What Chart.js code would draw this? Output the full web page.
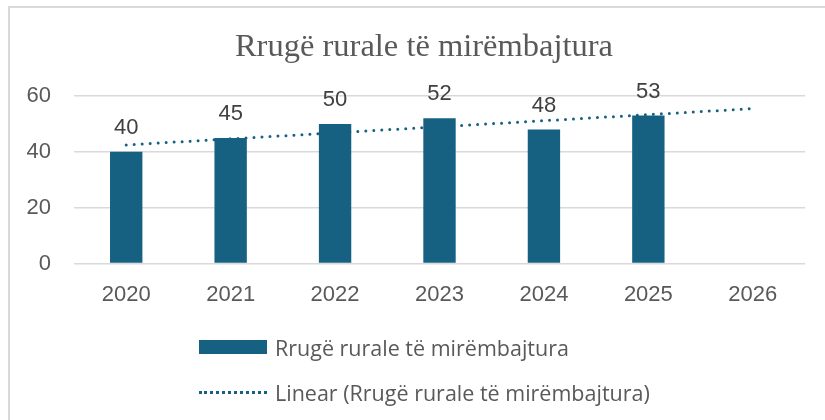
<!DOCTYPE html>
<html>
<head>
<meta charset="utf-8">
<script src="https://cdn.jsdelivr.net/npm/chart.js@4"></script>
<style>
  html, body { margin: 0; padding: 0; background: #fff; overflow: hidden; }
  #wrap { position: relative; width: 825px; height: 420px; }
  #frame {
    position: absolute; left: 8px; top: 6px; width: 900px; height: 500px;
    border: 2px solid #d9d9d9; box-sizing: border-box; pointer-events: none;
  }
  #title {
    position: absolute; left: 0; top: 25.5px; width: 848px; text-align: center;
    font-family: "Liberation Serif", "Times New Roman", serif; font-size: 32.5px;
    line-height: 39px; color: #595959; white-space: nowrap;
  }
  #legend {
    position: absolute; left: 199px; top: 334px;
    font-family: "Open Sans", "Noto Sans", sans-serif; font-size: 21.5px; color: #595959;
  }
  .item { display: flex; align-items: center; height: 26px; }
  .swatch-bar { width: 68px; height: 14px; background: #166082; margin-right: 8px; flex: none; }
  .swatch-dot { width: 68px; height: 0; border-top: 3px dotted #166082; margin-right: 8px; flex: none; }
</style>
</head>
<body>
<div id="wrap">
  <canvas id="chart" width="825" height="420"></canvas>
  <div id="frame"></div>
  <div id="title">Rrugë rurale të mirëmbajtura</div>
  <div id="legend">
    <div class="item"><span class="swatch-bar"></span><span>Rrugë rurale të mirëmbajtura</span></div>
    <div class="item" style="margin-top:19px"><span class="swatch-dot"></span><span>Linear (Rrugë rurale të mirëmbajtura)</span></div>
  </div>
</div>
<script>
'use strict';

// ─── Data ─────────────────────────────────────────────────────────────────────
const years   = ['2020', '2021', '2022', '2023', '2024', '2025', '2026'];
const roads   = [40, 45, 50, 52, 48, 53, null];
// trendline end points (2020 and 2026)
const trend   = [42.5, null, null, null, null, null, 55.5];
const yTicks  = [0, 20, 40, 60];

const BLUE = '#166082';
const GREY = '#595959';
const SANS = '"Liberation Sans", Arial, sans-serif';

// draws the value above each bar
const barLabels = {
  id: 'barLabels',
  afterDatasetsDraw(chart) {
    const ctx = chart.ctx;
    const meta = chart.getDatasetMeta(0);
    ctx.save();
    ctx.font = '22px ' + SANS;
    ctx.fillStyle = '#404040';
    ctx.textAlign = 'center';
    ctx.textBaseline = 'alphabetic';
    meta.data.forEach((bar, i) => {
      if (roads[i] == null) return;
      ctx.fillText(String(roads[i]), bar.x, bar.y - 18);
    });
    ctx.restore();
  },
};

new Chart(document.getElementById('chart').getContext('2d'), {
  data: {
    labels: years,
    datasets: [
      {
        type: 'bar',
        label: 'Rrugë rurale të mirëmbajtura',
        data: roads,
        backgroundColor: BLUE,
        categoryPercentage: 1,
        barPercentage: 0.31,
        order: 2,
      },
      {
        type: 'line',
        label: 'Linear (Rrugë rurale të mirëmbajtura)',
        data: trend,
        borderColor: BLUE,
        borderWidth: 3,
        borderDash: [0, 8],
        borderCapStyle: 'round',
        pointRadius: 0,
        spanGaps: true,
        fill: false,
        order: 1,
      },
    ],
  },
  options: {
    responsive: false,
    animation: false,
    layout: { padding: { left: 0, right: 20, top: 96, bottom: 94 } },
    plugins: {
      legend: { display: false },
      tooltip: { enabled: false },
      title: { display: false },
    },
    scales: {
      x: {
        grid: { display: false, drawTicks: false },
        border: { display: false },
        ticks: {
          color: GREY,
          font: { family: SANS, size: 22 },
          padding: 18,
          maxRotation: 0,
        },
      },
      y: {
        min: 0,
        max: 60,
        afterFit: s => { s.width = 74; },
        afterBuildTicks: s => { s.ticks = yTicks.map(v => ({ value: v })); },
        grid: { color: '#d9d9d9', lineWidth: 1.5, drawTicks: false },
        border: { display: false },
        ticks: {
          color: GREY,
          font: { family: SANS, size: 22 },
          padding: 23,
        },
      },
    },
  },
  plugins: [barLabels],
});
</script>
</body>
</html>
